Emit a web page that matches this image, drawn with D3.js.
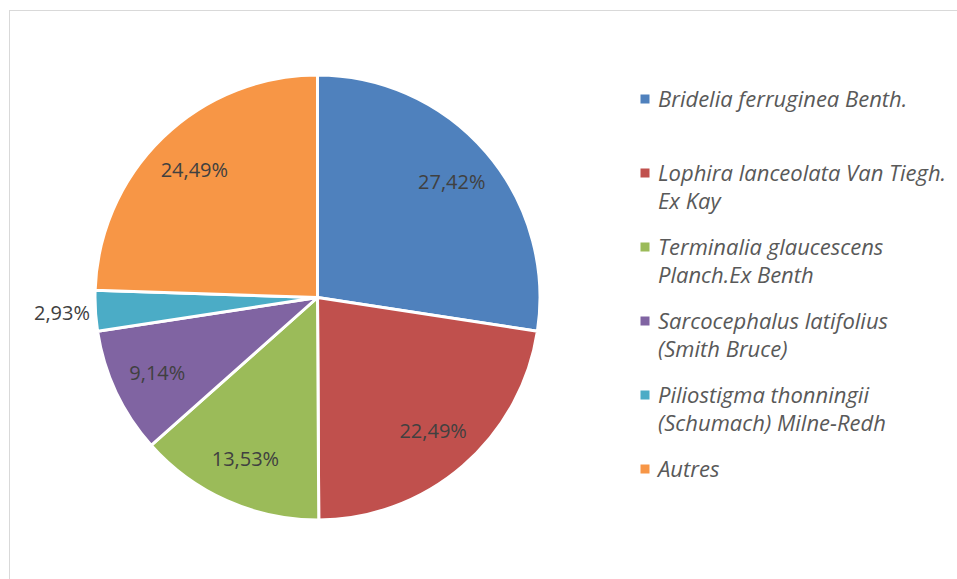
<!DOCTYPE html>
<html>
<head>
<meta charset="utf-8">
<script src="https://cdn.jsdelivr.net/npm/d3@7"></script>
<style>
  html, body { margin: 0; padding: 0; background: #fff; }
  svg { display: block; }
</style>
</head>
<body>
<svg id="chart" width="957" height="579"></svg>
<script>
// Species shares (%)
const species = [
  ["Bridelia ferruginea Benth."],
  ["Lophira lanceolata Van Tiegh.", "Ex Kay"],
  ["Terminalia glaucescens", "Planch.Ex Benth"],
  ["Sarcocephalus latifolius", "(Smith Bruce)"],
  ["Piliostigma thonningii", "(Schumach) Milne-Redh"],
  ["Autres"]
];
const shares = [27.42, 22.49, 13.53, 9.14, 2.93, 24.49];
const colors = ["#4F81BD", "#C0504D", "#9BBB59", "#8064A2", "#4BACC6", "#F79646"];

const svg = d3.select("#chart");

// Chart area frame (top and left edges visible)
svg.append("rect")
  .attr("x", 9.5).attr("y", 10.5)
  .attr("width", 1000).attr("height", 1000)
  .attr("fill", "none").attr("stroke", "#d9d9d9").attr("stroke-width", 1);

const cx = 317.5, cy = 297.5, R = 222.5;
const fmt = v => v.toFixed(2).replace(".", ",") + "%";

const pie = d3.pie().sort(null).value(d => d);
const arcs = pie(shares);
const arc = d3.arc().innerRadius(0).outerRadius(R);
const labelArc = d3.arc().innerRadius(177).outerRadius(177);
const outerLabelArc = d3.arc().innerRadius(262).outerRadius(262);

const g = svg.append("g").attr("transform", `translate(${cx},${cy})`);

g.selectAll("path.slice")
  .data(arcs)
  .join("path")
  .attr("class", "slice")
  .attr("d", arc)
  .attr("fill", (d, i) => colors[i])
  .attr("stroke", "#fff")
  .attr("stroke-width", 3)
  .attr("stroke-linejoin", "round");

// Value labels: small slices get theirs outside the pie
g.selectAll("text.val")
  .data(arcs)
  .join("text")
  .attr("class", "val")
  .each(function(d) {
    const small = d.data < 5;
    const [x, y] = (small ? outerLabelArc : labelArc).centroid(d);
    d3.select(this)
      .attr("x", small ? x + 34 : x)
      .attr("y", y)
      .attr("text-anchor", small ? "end" : "middle");
  })
  .attr("dy", "0.35em")
  .attr("font-family", "'Open Sans', 'Noto Sans', sans-serif")
  .attr("font-size", 20)
  .attr("fill", "#404040")
  .text(d => fmt(d.data));

// Legend
const legend = svg.append("g").attr("transform", "translate(640,99)");
const step = 74, lineH = 28.5;
species.forEach((lines, i) => {
  const row = legend.append("g").attr("transform", `translate(0,${i * step})`);
  row.append("rect")
    .attr("x", 0.5).attr("y", -4.5)
    .attr("width", 9).attr("height", 9)
    .attr("fill", colors[i]);
  const t = row.append("text")
    .attr("font-family", "'Open Sans', 'Noto Sans', sans-serif")
    .attr("font-style", "italic")
    .attr("font-size", 22)
    .attr("fill", "#595959");
  lines.forEach((ln, j) => {
    t.append("tspan")
      .attr("x", 18)
      .attr("y", j * lineH)
      .attr("dy", "0.35em")
      .text(ln);
  });
});
</script>
</body>
</html>
